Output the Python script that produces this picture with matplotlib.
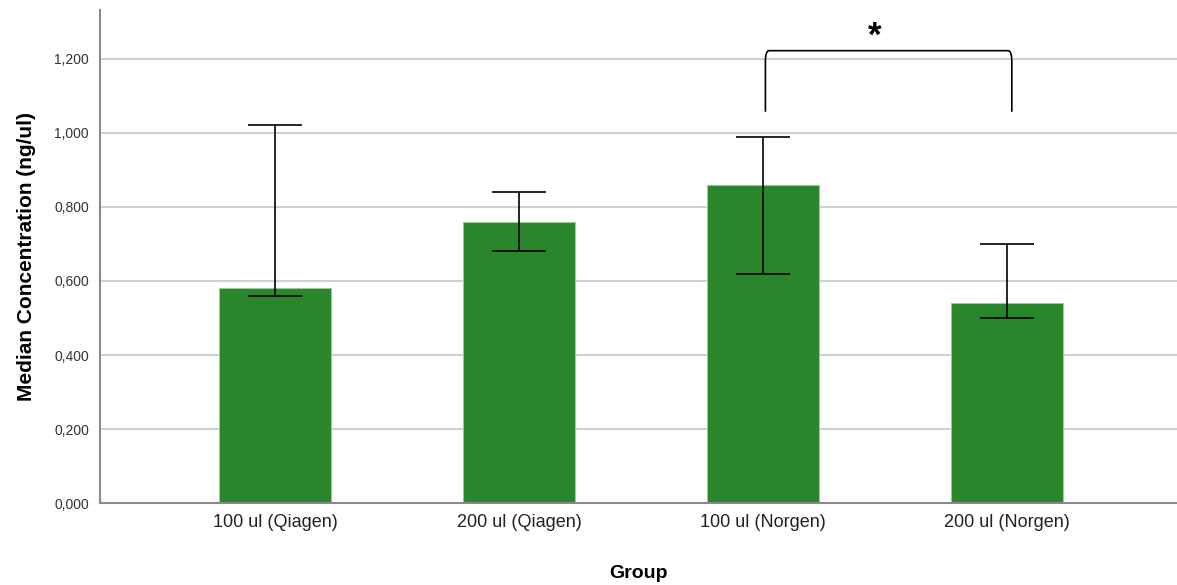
import numpy as np
import matplotlib
matplotlib.use("Agg")
import matplotlib.pyplot as plt
from matplotlib.path import Path
from matplotlib.patches import PathPatch

plt.rcParams['font.family'] = ['Liberation Sans', 'DejaVu Sans']

groups = ["100 ul (Qiagen)", "200 ul (Qiagen)", "100 ul (Norgen)", "200 ul (Norgen)"]
medians = [0.58, 0.76, 0.86, 0.54]
err_low = [0.56, 0.68, 0.62, 0.50]
err_high = [1.02, 0.84, 0.99, 0.70]
yticks = [0.0, 0.2, 0.4, 0.6, 0.8, 1.0, 1.2]

fig = plt.figure(figsize=(11.77, 5.85), dpi=100)
ax = fig.add_axes([0.085, 0.14, 0.915, 0.843])

x = np.arange(len(groups))
ax.bar(x, medians, width=0.46, color="#2a862a", edgecolor="#9cc89c", linewidth=0.8, zorder=2)
yerr = [np.array(medians) - np.array(err_low), np.array(err_high) - np.array(medians)]
ax.errorbar(x, medians, yerr=yerr, fmt="none", ecolor="black", elinewidth=1.2,
            capsize=19.5, capthick=1.2, zorder=3)

ax.set_xlim(-0.717, 3.697)
ax.set_ylim(0, 1.332)
ax.set_yticks(yticks)
ax.set_yticklabels([f"{v:.3f}".replace(".", ",") for v in yticks], fontsize=10, color="#333333")
ax.set_xticks(x)
ax.set_xticklabels(groups, fontsize=13, color="#222222")
ax.tick_params(length=0, pad=8)
ax.grid(axis="y", color="#d0d0d0", linewidth=1.5, zorder=0)
ax.set_axisbelow(True)
for s in ["top", "right"]:
    ax.spines[s].set_visible(False)
ax.spines["left"].set_color("#8a8a8a")
ax.spines["left"].set_linewidth(1.5)
ax.spines["bottom"].set_color("#8a8a8a")
ax.spines["bottom"].set_linewidth(1.5)

ax.set_ylabel("Median Concentration (ng/ul)", fontsize=15, fontweight="bold", labelpad=13)
ax.set_xlabel("Group", fontsize=14, fontweight="bold", labelpad=24)

# significance bracket between the Norgen groups
x1, x2 = 2.01, 3.02
ytop, ybot = 1.222, 1.057
r = 0.015
verts = [(x1, ybot), (x1, ytop - 0.03), (x1, ytop), (x1 + r, ytop),
         (x2 - r, ytop), (x2, ytop), (x2, ytop - 0.03), (x2, ybot)]
codes = [Path.MOVETO, Path.LINETO, Path.CURVE3, Path.CURVE3,
         Path.LINETO, Path.CURVE3, Path.CURVE3, Path.LINETO]
ax.add_patch(PathPatch(Path(verts, codes), fill=False, color="black", linewidth=1.2, zorder=4))
ax.text(2.459, 1.262, "*", ha="center", va="center", fontsize=25, fontweight="bold")

fig.savefig("out.png", dpi=100)
